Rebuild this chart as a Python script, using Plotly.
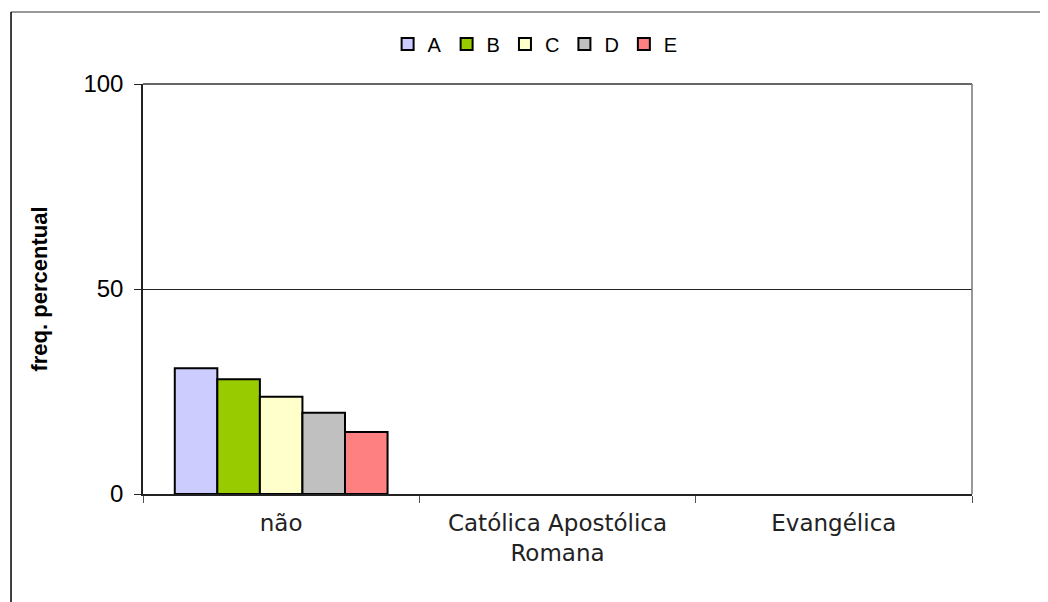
import plotly.graph_objects as go

categories = ["não", "Católica Apostólica<br>Romana", "Evangélica"]
series_names = ["A", "B", "C", "D", "E"]
series_values = {
    "A": [30.7, None, None],
    "B": [28.0, None, None],
    "C": [23.7, None, None],
    "D": [19.8, None, None],
    "E": [15.1, None, None],
}
series_colours = {
    "A": "#CCCCFF",
    "B": "#99CC00",
    "C": "#FFFFCC",
    "D": "#C0C0C0",
    "E": "#FF8080",
}

fig = go.Figure()
for name in series_names:
    fig.add_trace(go.Bar(
        x=categories,
        y=series_values[name],
        name=name,
        marker=dict(color=series_colours[name], line=dict(color="black", width=2)),
    ))

fig.update_layout(
    width=1048,
    height=602,
    barmode="group",
    bargap=0.23,
    bargroupgap=0,
    plot_bgcolor="white",
    paper_bgcolor="white",
    margin=dict(l=135, r=84, t=76, b=116),
    font=dict(family="Liberation Sans, Arial", color="black"),
    legend=dict(
        orientation="h",
        x=0.473, xanchor="center",
        y=1.0976, yanchor="middle",
        font=dict(size=20),
        itemwidth=30,
        bgcolor="rgba(0,0,0,0)",
        traceorder="normal",
    ),
    showlegend=True,
)

fig.update_xaxes(
    type="category",
    showline=True, linecolor="#222222", linewidth=1.5,
    ticks="outside", tickson="boundaries", ticklen=7, tickcolor="#555555",
    tickfont=dict(family="DejaVu Sans", size=23, color="#222222"),
    ticklabelstandoff=8,
    showgrid=False,
)
fig.update_yaxes(
    range=[0, 100],
    tickvals=[0, 50, 100],
    showline=True, linecolor="#222222", linewidth=1.5,
    ticks="outside", ticklen=7, tickcolor="#222222",
    tickfont=dict(size=24),
    ticklabelstandoff=6,
    showgrid=True, gridcolor="#222222", gridwidth=1,
    zeroline=False,
    title=dict(text="<b>freq. percentual</b>", font=dict(size=22), standoff=30),
)

# top and right border of plot area
fig.add_shape(type="line", xref="paper", yref="paper", x0=0, x1=1, y0=1, y1=1,
              line=dict(color="#333333", width=1.5))
fig.add_shape(type="line", xref="paper", yref="paper", x0=1, x1=1, y0=0, y1=1,
              line=dict(color="#777777", width=1.5))
# outer chart frame
fig.add_shape(type="line", xref="paper", yref="paper", x0=-0.1592, x1=1.2, y0=1.1756, y1=1.1756,
              line=dict(color="#777777", width=1.5))
fig.add_shape(type="line", xref="paper", yref="paper", x0=-0.1592, x1=-0.1592, y0=1.1756, y1=-0.4,
              line=dict(color="black", width=1.5))

fig.write_html("out.html")
